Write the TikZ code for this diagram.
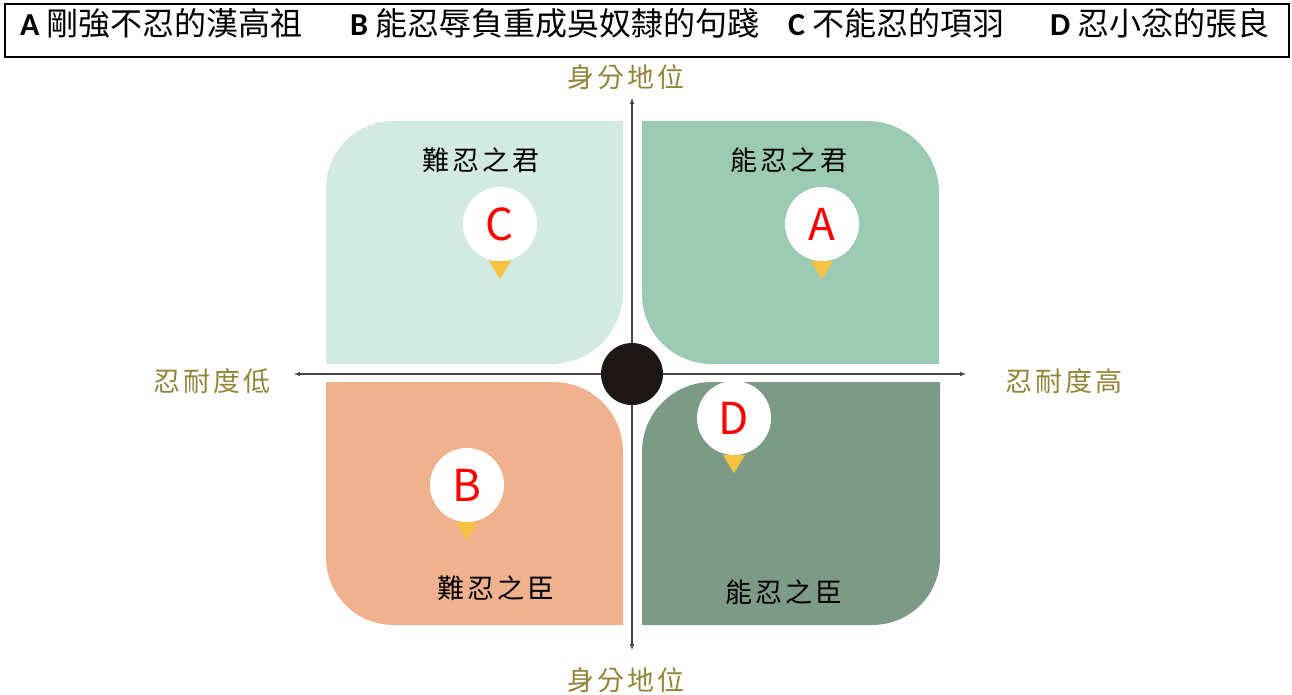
\documentclass[tikz,border=0pt]{standalone}
\usepackage{fontspec}
\setmainfont{Carlito}
\newfontfamily\cjk{Noto Sans CJK TC}
\newfontfamily\cjkwide[LetterSpace=12]{Noto Sans CJK TC}
\usetikzlibrary{arrows}
\tikzset{>=latex}
\definecolor{color1}{RGB}{210,234,225}
\definecolor{color2}{RGB}{157,202,178}
\definecolor{color3}{RGB}{240,178,142}
\definecolor{color4}{RGB}{125,154,135}
\definecolor{color5}{RGB}{245,194,66}
\definecolor{color6}{RGB}{146,133,58}
\definecolor{color7}{RGB}{28,23,20}
\definecolor{color8}{RGB}{70,70,70}
\def\linethickness{1.1pt}
\tikzset{
    marker/.style={circle, fill=white, inner sep=0pt, minimum size=74pt, text=red, font=\cjk\fontsize{44}{44}\selectfont},
    quadtext/.style={inner sep=0pt, font=\cjkwide\fontsize{27}{27}\selectfont},
    axistext/.style={inner sep=0pt, text=color6, font=\cjkwide\fontsize{27}{27}\selectfont},
    headtext/.style={inner sep=0pt, anchor=base west, font=\fontsize{32}{36}\selectfont}
}

\begin{document}
\begin{tikzpicture}[x=1pt, y=-1pt]
    \useasboundingbox (0, 0) rectangle (1292, 695);
    \draw[line width=2pt] (5, 4) rectangle (1289, 57);
    \node[headtext] at (20, 36) (h1) {\textbf{A} {\cjk 剛強不忍的漢高祖}};
    \node[headtext] at (350, 36) (h2) {\textbf{B} {\cjk 能忍辱負重成吳奴隸的句踐}};
    \node[headtext] at (788, 36) (h3) {\textbf{C} {\cjk 不能忍的項羽}};
    \node[headtext] at (1050, 36) (h4) {\textbf{D} {\cjk 忍小忿的張良}};

    \fill[color1] (326, 189) -- (326, 364) -- (551, 364) .. controls +(40, 0) and +(0, 40) .. (623, 292) -- (623, 121) -- (394, 121) .. controls +(-38, 0) and +(0, -38) .. (326, 189) -- cycle;
    \fill[color2] (642, 121) -- (867, 121) .. controls +(40, 0) and +(0, -40) .. (939, 193) -- (939, 364) -- (712, 364) .. controls +(-39, 0) and +(0, 39) .. (642, 294) -- cycle;
    \fill[color3] (326, 382) -- (553, 382) .. controls +(39, 0) and +(0, -39) .. (623, 452) -- (623, 625) -- (394, 625) .. controls +(-38, 0) and +(0, 38) .. (326, 557) -- cycle;
    \fill[color4] (712, 382) -- (940, 382) -- (940, 557) .. controls +(0, 38) and +(38, 0) .. (872, 625) -- (642, 625) -- (642, 452) .. controls +(0, -39) and +(-39, 0) .. (712, 382) -- cycle;

    \coordinate (w) at (294, 374);
    \coordinate (e) at (966, 374);
    \coordinate (n) at (632, 98);
    \coordinate (s) at (632, 650);
    \draw[<->, color8, line width=\linethickness] (w) -- (e);
    \draw[<->, color8, line width=\linethickness] (n) -- (s);
    \node[circle, fill=color7, minimum size=62pt, inner sep=0pt] at (632, 374) (o) {};

    \node[axistext] at (626, 77) (top) {身分地位};
    \node[axistext] at (626, 680) (bottom) {身分地位};
    \node[axistext] at (212, 381) (low) {忍耐度低};
    \node[axistext] at (1064, 381) (high) {忍耐度高};

    \node[quadtext] at (481, 160) (q1) {難忍之君};
    \node[quadtext] at (789, 160) (q2) {能忍之君};
    \node[quadtext] at (496, 588) (q3) {難忍之臣};
    \node[quadtext] at (784, 592) (q4) {能忍之臣};

    \node[marker] at (822, 224) (a) {A};
    \node[marker] at (467, 485) (b) {B};
    \node[marker] at (500, 224) (c) {C};
    \node[marker] at (734, 418) (d) {D};
    \foreach \p in {a, b, c, d}
        \fill[color5] ([xshift=-11pt]\p.south) -- ([xshift=11pt]\p.south) -- ([yshift=-18pt]\p.south) -- cycle;
\end{tikzpicture}
\end{document}
